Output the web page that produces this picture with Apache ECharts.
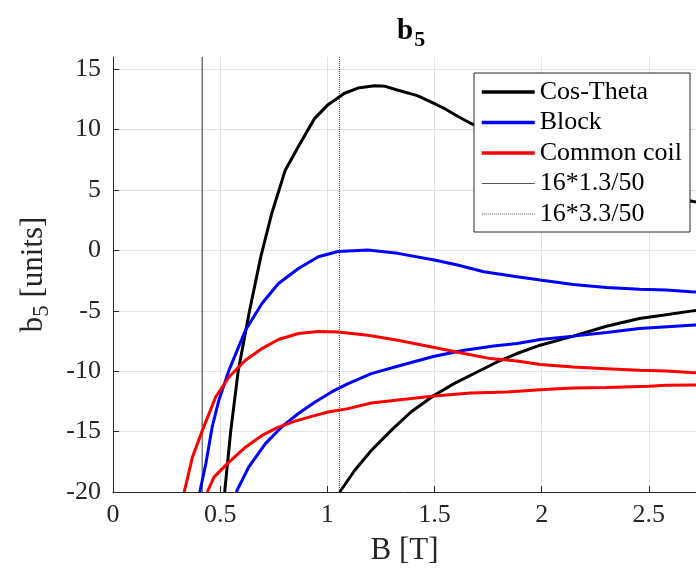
<!DOCTYPE html>
<html>
<head>
<meta charset="utf-8">
<script src="https://cdn.jsdelivr.net/npm/echarts@6/dist/echarts.min.js"></script>
<style>html,body{margin:0;padding:0;background:#fff}#c{width:696px;height:577px}</style>
</head>
<body>
<div id="c"></div>
<script>
// Data (B [T], b5 [units])
const cosThetaUp = [[0.521,-20],[0.549,-15],[0.584,-10],[0.637,-5],[0.69,-0.5],[0.71,0.9],[0.741,3.07],[0.803,6.6],[0.865,8.6],[0.94,10.9],[1.0,12.0],[1.08,13.0],[1.143,13.43],[1.22,13.62],[1.27,13.57],[1.33,13.25],[1.42,12.8],[1.51,12.05],[1.55,11.7],[1.61,11.08],[1.67,10.5],[1.8,9.4],[1.9,8.6],[2.0,7.9],[2.2,6.7],[2.4,5.6],[2.6,4.5],[2.672,4.17],[2.72,4.0]];
const cosThetaDown = [[1.058,-20],[1.128,-18.2],[1.205,-16.56],[1.298,-14.9],[1.39,-13.38],[1.499,-12.0],[1.591,-11.03],[1.699,-10.07],[1.792,-9.24],[1.885,-8.54],[1.993,-7.85],[2.147,-7.1],[2.302,-6.28],[2.456,-5.64],[2.564,-5.37],[2.696,-5.03],[2.72,-4.97]];
const blockUp = [[0.405,-20],[0.433,-17.66],[0.463,-14.6],[0.494,-12.4],[0.541,-9.93],[0.618,-6.61],[0.695,-4.4],[0.772,-2.74],[0.865,-1.5],[0.958,-0.53],[1.05,-0.1],[1.189,0.02],[1.329,-0.25],[1.499,-0.8],[1.607,-1.22],[1.73,-1.77],[1.885,-2.19],[1.993,-2.46],[2.147,-2.82],[2.302,-3.07],[2.456,-3.23],[2.58,-3.29],[2.696,-3.43],[2.72,-3.45]];
const blockDown = [[0.575,-20],[0.633,-17.94],[0.711,-16.0],[0.788,-14.6],[0.865,-13.5],[0.943,-12.55],[1.02,-11.72],[1.097,-11.03],[1.205,-10.2],[1.344,-9.51],[1.499,-8.77],[1.638,-8.27],[1.777,-7.91],[1.885,-7.71],[1.993,-7.38],[2.147,-7.1],[2.302,-6.8],[2.456,-6.47],[2.696,-6.19],[2.72,-6.17]];
const commonCoilUp = [[0.332,-20],[0.371,-17.1],[0.417,-14.9],[0.479,-12.14],[0.541,-10.48],[0.618,-9.1],[0.695,-8.13],[0.772,-7.38],[0.865,-6.88],[0.958,-6.72],[1.05,-6.75],[1.189,-7.02],[1.329,-7.44],[1.499,-8.04],[1.638,-8.54],[1.761,-8.96],[1.885,-9.15],[1.993,-9.45],[2.147,-9.65],[2.302,-9.79],[2.456,-9.93],[2.58,-9.98],[2.696,-10.12],[2.72,-10.14]];
const commonCoilDown = [[0.44,-20],[0.471,-18.77],[0.541,-17.53],[0.618,-16.29],[0.695,-15.32],[0.772,-14.63],[0.85,-14.13],[0.927,-13.74],[1.004,-13.38],[1.097,-13.1],[1.205,-12.64],[1.36,-12.33],[1.499,-12.06],[1.668,-11.81],[1.838,-11.72],[1.993,-11.53],[2.147,-11.39],[2.302,-11.36],[2.502,-11.25],[2.58,-11.17],[2.72,-11.15]];
const refLine1 = 16*1.3/50;
const refLine2 = 16*3.3/50;
const xTicks = [0,0.5,1,1.5,2,2.5];
const yTicks = [-20,-15,-10,-5,0,5,10,15];
const xRange = [0, 2.72];
const yRange = [-20, 16];

const FONT = 'Liberation Serif';
const AX = '#262626';
const chart = echarts.init(document.getElementById('c'), null, {renderer:'canvas'});

function curve(name, data, color){
  return {name, type:'line', data, symbol:'none', smooth:false, clip:true,
    lineStyle:{color, width:3}, itemStyle:{color}, z:3};
}
function vline(name, x, type){
  return {name, type:'line', data:[[x,yRange[0]],[x,yRange[1]]], symbol:'none', clip:true,
    lineStyle:{color:'#333', width:1, type}, itemStyle:{color:'#333'}, z:2};
}

chart.setOption({
  animation:false,
  backgroundColor:'#fff',
  title:{
    text:'{b|b}{s|5}', left:392, top:8,
    textStyle:{rich:{
      b:{fontFamily:FONT, fontWeight:'bold', fontSize:29, color:'#000'},
      s:{fontFamily:FONT, fontWeight:'bold', fontSize:22, color:'#000', padding:[16,0,0,1]}
    }}
  },
  grid:{left:113, right:-4, top:57, bottom:85, containLabel:false},
  legend:{
    orient:'vertical', left:474, top:73,
    data:[
      {name:'Cos-Theta', lineStyle:{width:3.5, color:'#000'}},
      {name:'Block', lineStyle:{width:3.5, color:'#0000ff'}},
      {name:'Common coil', lineStyle:{width:3.5, color:'#ff0000'}},
      {name:'16*1.3/50', lineStyle:{width:1, color:'#555'}},
      {name:'16*3.3/50', lineStyle:{width:1, color:'#555', type:'dotted'}}
    ],
    itemWidth:53, itemHeight:14, itemGap:4.5,
    padding:[6,8,5,6],
    itemStyle:{opacity:0},
    backgroundColor:'#fff', borderColor:AX, borderWidth:1,
    textStyle:{fontFamily:FONT, fontSize:26, color:'#000', lineHeight:26},
    selectedMode:false
  },
  xAxis:{
    type:'value', min:xRange[0], max:xRange[1], interval:0.5,
    name:'B [T]', nameLocation:'middle', nameGap:43,
    nameTextStyle:{fontFamily:FONT, fontSize:31, color:AX},
    axisLine:{show:true, onZero:false, lineStyle:{color:AX, width:1}},
    axisTick:{show:true, inside:true, length:6, lineStyle:{color:AX}},
    axisLabel:{fontFamily:FONT, fontSize:26, color:AX, margin:10, showMaxLabel:false,
      formatter:v => xTicks.some(t=>Math.abs(t-v)<1e-9) ? String(v) : ''},
    splitLine:{show:true, showMaxLine:false, showMinLine:false, lineStyle:{color:'#e3e3e3', width:1}}
  },
  yAxis:{
    type:'value', min:yRange[0], max:yRange[1], interval:5,
    name:'{a|b}{s|5}{a| [units]}', nameLocation:'middle', nameGap:60, nameRotate:90,
    nameTextStyle:{rich:{
      a:{fontFamily:FONT, fontSize:31, color:AX},
      s:{fontFamily:FONT, fontSize:23, color:AX, padding:[15,0,0,0]}
    }},
    axisLine:{show:true, onZero:false, lineStyle:{color:AX, width:1}},
    axisTick:{show:true, inside:true, length:6, lineStyle:{color:AX}},
    axisLabel:{fontFamily:FONT, fontSize:26, color:AX, margin:12, showMaxLabel:false,
      formatter:v => yTicks.includes(v) ? String(v) : ''},
    splitLine:{show:true, showMaxLine:false, showMinLine:false, lineStyle:{color:'#e3e3e3', width:1}}
  },
  series:[
    curve('Cos-Theta', cosThetaUp, '#000000'),
    curve('Cos-Theta', cosThetaDown, '#000000'),
    curve('Block', blockUp, '#0000ff'),
    curve('Block', blockDown, '#0000ff'),
    curve('Common coil', commonCoilUp, '#ff0000'),
    curve('Common coil', commonCoilDown, '#ff0000'),
    vline('16*1.3/50', refLine1, 'solid'),
    vline('16*3.3/50', refLine2, 'dotted')
  ]
});
</script>
</body>
</html>
